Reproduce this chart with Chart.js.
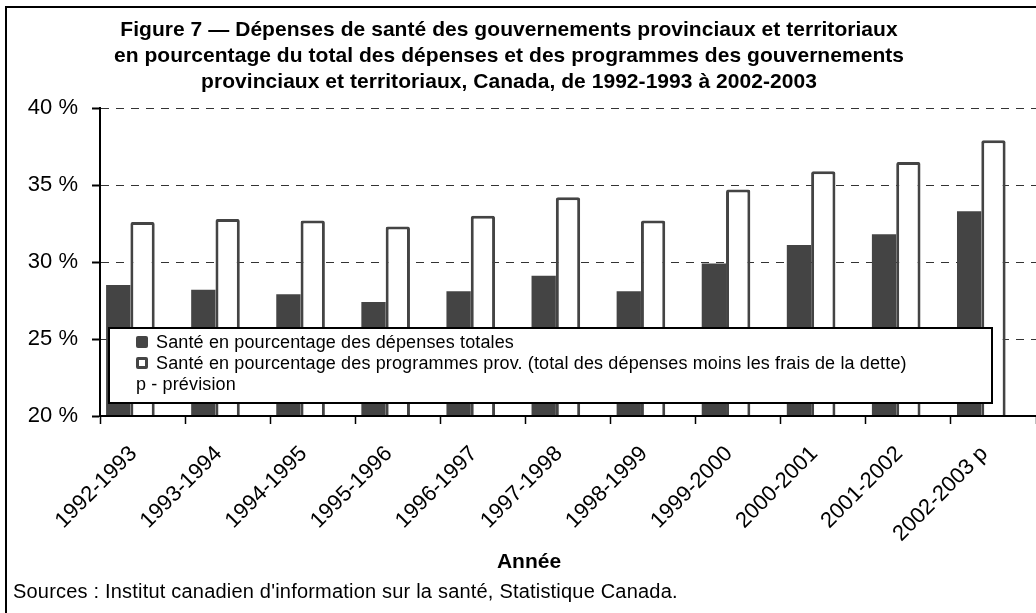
<!DOCTYPE html>
<html lang="fr">
<head>
<meta charset="utf-8">
<script src="https://cdn.jsdelivr.net/npm/chart.js@4.4.1/dist/chart.umd.min.js"></script>
<style>
  html, body { margin: 0; padding: 0; background: #fff; width: 1036px; height: 613px; overflow: hidden; }
  body { position: relative; font-family: 'Liberation Sans', Arial, Helvetica, sans-serif; color: #000; }
  #frame { position: absolute; left: 5px; top: 6px; width: 1100px; height: 700px; border-top: 2px solid #000; border-left: 2px solid #000; pointer-events: none; }
  #chart { position: absolute; left: 0; top: 0; }
  #title { position: absolute; left: 0; top: 16px; width: 1018px; text-align: center; font-weight: bold; font-size: 21px; line-height: 26px; letter-spacing: 0.05px; }
  #xtitle { position: absolute; left: 429px; top: 548px; width: 200px; text-align: center; font-weight: bold; font-size: 21px; line-height: 26px; }
  #source { position: absolute; left: 13px; top: 579px; font-size: 20px; line-height: 24px; white-space: nowrap; letter-spacing: 0.2px; }
  #legend { position: absolute; left: 108px; top: 327px; width: 881px; height: 70px; border: 2px solid #000; background: #fff; padding-top: 3px; box-sizing: content-box; }
  #legend .row { height: 21px; line-height: 21px; font-size: 18px; white-space: nowrap; position: relative; padding-left: 46px; letter-spacing: 0.14px; }
  #legend .row.nomark { padding-left: 26px; }
  #legend .mark { position: absolute; left: 26px; top: 4px; width: 12px; height: 12px; box-sizing: border-box; border-radius: 2px; }
</style>
</head>
<body>
<canvas id="chart" width="1036" height="613"></canvas>
<div id="frame"></div>
<div id="title">Figure 7 — Dépenses de santé des gouvernements provinciaux et territoriaux<br>en pourcentage du total des dépenses et des programmes des gouvernements<br>provinciaux et territoriaux, Canada, de 1992-1993 à 2002-2003</div>
<div id="xtitle">Année</div>
<div id="source">Sources : Institut canadien d'information sur la santé, Statistique Canada.</div>
<div id="legend"></div>
<script>
// ---- Data ----
const categories = ['1992-1993', '1993-1994', '1994-1995', '1995-1996', '1996-1997', '1997-1998',
                    '1998-1999', '1999-2000', '2000-2001', '2001-2002', '2002-2003 p'];
const santeDepensesTotales = [28.5, 28.2, 27.9, 27.4, 28.1, 29.1, 28.1, 29.9, 31.1, 31.8, 33.3];
const santeProgrammesProv = [32.6, 32.8, 32.7, 32.3, 33.0, 34.2, 32.7, 34.7, 35.9, 36.5, 37.9];
const prevision = [null, null, null, null, null, null, null, null, null, null, null];
const seriesLabels = [
  'Santé en pourcentage des dépenses totales',
  'Santé en pourcentage des programmes prov. (total des dépenses moins les frais de la dette)',
  'p - prévision'
];
const yMin = 20, yMax = 40, yStep = 5;

const FONT = "'Liberation Sans', Arial, Helvetica, sans-serif";
const DARK = '#444444';

const chart = new Chart(document.getElementById('chart'), {
  type: 'bar',
  data: {
    labels: categories,
    datasets: [
      { label: seriesLabels[0], data: santeDepensesTotales, backgroundColor: DARK, borderColor: DARK, borderWidth: 0 },
      { label: seriesLabels[1], data: santeProgrammesProv, backgroundColor: '#ffffff', borderColor: DARK, borderWidth: 3, borderRadius: 2, borderSkipped: 'bottom' },
      { label: seriesLabels[2], data: prevision, backgroundColor: 'rgba(0,0,0,0)', borderColor: 'rgba(0,0,0,0)', borderWidth: 0 }
    ]
  },
  options: {
    responsive: false,
    animation: false,
    events: [],
    categoryPercentage: 0.857,
    barPercentage: 1.0,
    layout: { padding: { top: 108, left: 0, right: 0, bottom: 0 } },
    plugins: { legend: { display: false }, title: { display: false }, tooltip: { enabled: false } },
    scales: {
      x: {
        type: 'category',
        offset: true,
        grid: { display: true, offset: true, drawOnChartArea: false, drawTicks: true, tickLength: 8, tickColor: '#000', tickWidth: 1.5, color: '#000' },
        border: { display: true, color: '#000', width: 2, z: 1 },
        ticks: { color: '#000', font: { family: FONT, size: 22 }, minRotation: 45, maxRotation: 45, padding: 17, labelOffset: -9, autoSkip: false },
        afterFit: (s) => { s.height = 197; }
      },
      y: {
        type: 'linear',
        min: yMin, max: yMax,
        ticks: { stepSize: yStep, color: '#000', font: { family: FONT, size: 22 }, padding: 14,
                 callback: (v) => v + ' %' },
        grid: { display: true, color: '#333', lineWidth: 1, drawTicks: true, tickLength: 8, tickColor: '#000', tickWidth: 2, tickBorderDash: [] },
        border: { display: true, color: '#000', width: 2, dash: [8, 7] },
        afterFit: (s) => { s.width = 100; }
      }
    }
  }
});

// Legend built from the chart's own datasets
const legend = document.getElementById('legend');
chart.data.datasets.forEach((ds) => {
  const row = document.createElement('div');
  row.className = 'row';
  const hasMark = ds.borderWidth > 0 || (ds.backgroundColor && ds.backgroundColor !== 'rgba(0,0,0,0)');
  if (hasMark) {
    const m = document.createElement('span');
    m.className = 'mark';
    m.style.background = ds.backgroundColor;
    if (ds.borderWidth > 0) m.style.border = ds.borderWidth + 'px solid ' + ds.borderColor;
    row.appendChild(m);
  } else {
    row.classList.add('nomark');
  }
  row.appendChild(document.createTextNode(ds.label));
  legend.appendChild(row);
});
</script>
</body>
</html>
